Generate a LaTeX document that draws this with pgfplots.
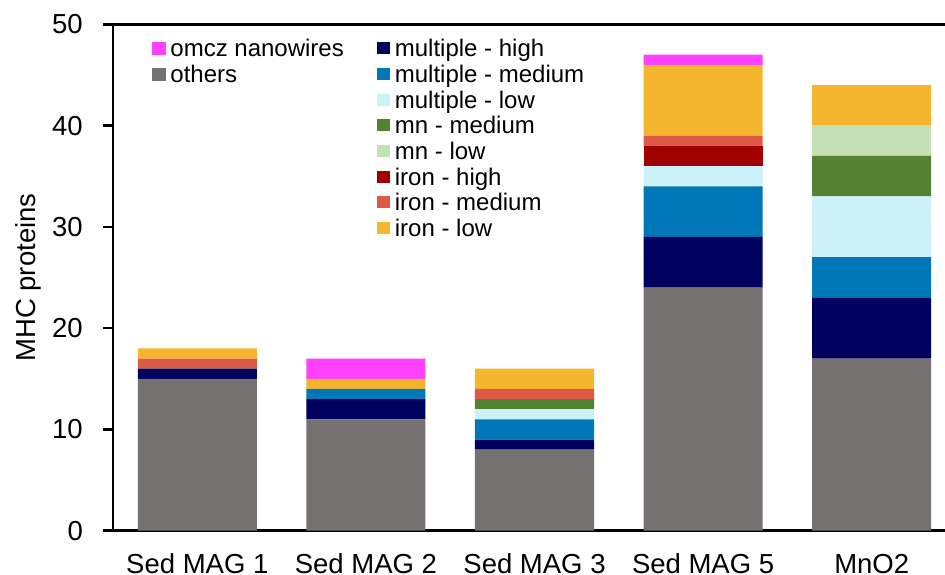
\documentclass[border=0pt]{standalone}
\usepackage{pgfplots}
\pgfplotsset{compat=1.18}
\usepackage{fontspec}
\setmainfont{Liberation Sans}
\definecolor{cOthers}{HTML}{767171}
\definecolor{cMH}{HTML}{00005F}
\definecolor{cMM}{HTML}{0077B6}
\definecolor{cML}{HTML}{CCF1F9}
\definecolor{cMnM}{HTML}{548235}
\definecolor{cMnL}{HTML}{C5E0B4}
\definecolor{cIH}{HTML}{A00000}
\definecolor{cIM}{HTML}{DE5A46}
\definecolor{cIL}{HTML}{F6B52E}
\definecolor{cOM}{HTML}{FF40FF}
\newcommand\sqimg[1]{\addlegendimage{legend image code/.code={\fill[#1] (0pt,2.5pt) rectangle (13pt,14.5pt);}}}
\pgfplotsset{
  mylegend/.style={
    legend style={draw=none, fill=none, anchor=north west, inner sep=0pt, outer sep=0pt,
      font=\fontsize{24}{28}\selectfont,
      nodes={inner sep=0pt, text height=18pt, text depth=7.7pt, anchor=base west},
      cells={anchor=base west},
      row sep=0pt,
      /tikz/every odd column/.style={column sep=5pt}},
  },
  common/.style={
    at={(0,0)}, anchor=south west,
    scale only axis, width=843pt, height=506.4pt,
    xmin=-0.5, xmax=4.5, ymin=0, ymax=50,
  }
}
\begin{document}
\begin{tikzpicture}
\path[use as bounding box] (-113pt,-44.3pt) rectangle (832pt,530.7pt);
\begin{axis}[common, mylegend,
  legend style={at={(axis description cs:0.313,0.9716)}},
  ybar stacked, bar width=119pt,
  axis x line=box, axis y line=left,
  axis line style={-, line width=2.5pt, black},
  xtick={0,1,2,3,4},
  xticklabels={Sed MAG 1, Sed MAG 2, Sed MAG 3, Sed MAG 5, MnO2},
  x tick style={draw=none},
  ytick={0,10,20,30,40,50},
  ytick pos=left, tick align=outside,
  y tick style={line width=2.5pt, black}, major tick length=10pt,
  /pgf/number format/assume math mode=true,
  ticklabel style={font=\fontsize{27.5}{30}\selectfont},
  xticklabel style={anchor=base, yshift=-33pt, inner sep=0pt},
  yticklabel style={anchor=east, inner sep=0pt, xshift=-20pt},
  ylabel={MHC proteins},
  ylabel style={font=\fontsize{27.5}{30}\selectfont, at={(axis description cs:-0.1008,0.5)}, anchor=center},
  every axis plot/.append style={draw=none},
]
\addplot[fill=cOthers, forget plot] coordinates {(0,15) (1,11) (2,8) (3,24) (4,17)};
\addplot[fill=cMH, forget plot] coordinates {(0,1) (1,2) (2,1) (3,5) (4,6)};
\addplot[fill=cMM, forget plot] coordinates {(0,0) (1,1) (2,2) (3,5) (4,4)};
\addplot[fill=cML, forget plot] coordinates {(0,0) (1,0) (2,1) (3,2) (4,6)};
\addplot[fill=cMnM, forget plot] coordinates {(0,0) (1,0) (2,1) (3,0) (4,4)};
\addplot[fill=cMnL, forget plot] coordinates {(0,0) (1,0) (2,0) (3,0) (4,3)};
\addplot[fill=cIH, forget plot] coordinates {(0,0) (1,0) (2,0) (3,2) (4,0)};
\addplot[fill=cIM, forget plot] coordinates {(0,1) (1,0) (2,1) (3,1) (4,0)};
\addplot[fill=cIL, forget plot] coordinates {(0,1) (1,1) (2,2) (3,7) (4,4)};
\addplot[fill=cOM, forget plot] coordinates {(0,0) (1,2) (2,0) (3,1) (4,0)};
\sqimg{cMH}\addlegendentry{multiple - high}
\sqimg{cMM}\addlegendentry{multiple - medium}
\sqimg{cML}\addlegendentry{multiple - low}
\sqimg{cMnM}\addlegendentry{mn - medium}
\sqimg{cMnL}\addlegendentry{mn - low}
\sqimg{cIH}\addlegendentry{iron - high}
\sqimg{cIM}\addlegendentry{iron - medium}
\sqimg{cIL}\addlegendentry{iron - low}
\end{axis}
\begin{axis}[common, mylegend, hide axis,
  legend style={at={(axis description cs:0.0463,0.9716)}}]
\sqimg{cOM}\addlegendentry{omcz nanowires}
\sqimg{cOthers}\addlegendentry{others}
\end{axis}
\end{tikzpicture}
\end{document}
